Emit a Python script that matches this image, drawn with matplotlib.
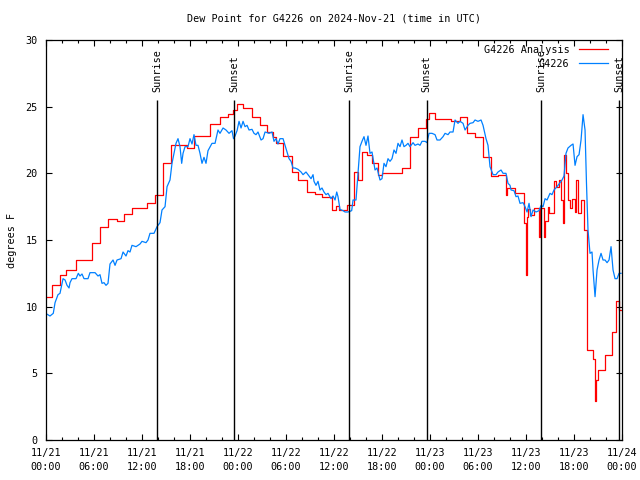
"""Dew point chart for G4226: analysis vs observations, with sunrise/sunset markers."""
import matplotlib
matplotlib.use("Agg")
import matplotlib.pyplot as plt
from matplotlib.ticker import MultipleLocator

# hours since 2024-11-21 00:00 UTC
analysis_hours = [0.0, 0.71, 1.75, 2.5, 3.75, 5.71, 6.75, 7.79, 8.84, 9.75, 10.71, 12.59,
                  13.63, 14.63, 15.63, 17.59, 18.5, 20.5, 21.75, 22.79, 23.41, 23.88, 24.66,
                  25.69, 26.75, 27.59, 28.41, 28.75, 29.63, 30.69, 31.56, 32.63, 33.66, 34.56,
                  35.69, 36.31, 36.63, 37.63, 38.56, 38.94, 39.5, 40.13, 40.75, 41.56, 42.0,
                  42.63, 44.56, 45.56, 46.56, 47.5, 47.88, 48.63, 50.63, 51.71, 52.63, 53.59,
                  54.63, 55.59, 56.5, 57.5, 57.63, 58.59, 59.81, 59.94, 60.09, 60.25, 60.5,
                  61.0, 61.63, 61.75, 62.19, 62.38, 62.69, 62.88, 63.56, 63.75, 64.13, 64.38,
                  64.63, 64.75, 65.0, 65.25, 65.5, 65.81, 66.13, 66.31, 66.56, 66.88, 67.25,
                  67.66, 68.34, 68.63, 68.75, 69.0, 69.88, 70.71, 71.21, 71.63, 72.0]
analysis_dewpt = [10.75, 11.6, 12.4, 12.75, 13.5, 14.75, 15.95, 16.6, 16.4, 16.95, 17.4, 17.75,
                  18.4, 20.75, 22.1, 21.9, 22.8, 23.7, 24.2, 24.45, 24.75, 25.2, 24.9,
                  24.25, 23.6, 23.1, 22.7, 22.25, 21.3, 20.1, 19.5, 18.6, 18.45, 18.2,
                  17.25, 17.55, 17.25, 17.6, 20.1, 19.5, 21.6, 21.4, 20.8, 19.9, 20.0,
                  20.05, 20.4, 22.75, 23.4, 24.1, 24.5, 24.1, 23.9, 24.25, 23.0, 22.7,
                  21.25, 19.8, 19.9, 18.4, 18.9, 18.55, 16.25, 12.4, 16.75, 17.3, 16.9,
                  17.4, 15.25, 17.4, 15.25, 16.4, 17.5, 17.0, 19.4, 19.0, 19.5, 18.0,
                  16.25, 21.4, 20.0, 18.0, 17.4, 18.1, 17.1, 19.5, 17.0, 18.0, 15.75,
                  6.75, 6.1, 2.9, 4.5, 5.25, 6.4, 8.1, 10.4, 9.75, 9.75]

obs_hours = [0.09, 0.5, 0.91, 1.13, 1.5, 1.75, 2.13, 2.38, 2.63, 2.88, 3.0, 3.25, 3.75, 4.04,
             4.25, 4.5, 4.75, 5.25, 5.5, 6.13, 6.5, 6.75, 7.0, 7.25, 7.5, 7.75, 8.0, 8.38,
             8.63, 8.88, 9.38, 9.63, 10.0, 10.25, 10.5, 10.75, 11.25, 11.75, 12.0, 12.5,
             12.75, 13.0, 13.5, 13.88, 14.25, 14.5, 14.88, 15.13, 15.5, 15.75, 16.0, 16.25,
             16.5, 16.75, 16.96, 17.13, 17.38, 17.75, 18.0, 18.25, 18.5, 18.75, 19.0, 19.25,
             19.5, 19.75, 20.0, 20.25, 20.75, 21.13, 21.5, 21.75, 22.13, 22.5, 22.88, 23.25,
             23.44, 23.63, 23.88, 24.13, 24.38, 24.63, 24.88, 25.13, 25.38, 25.75, 26.0,
             26.25, 26.5, 26.88, 27.13, 27.38, 27.88, 28.25, 28.5, 28.75, 29.0, 29.25, 29.63,
             29.88, 30.13, 30.38, 30.63, 30.88, 31.13, 31.5, 31.88, 32.13, 32.5, 32.75,
             33.13, 33.38, 33.5, 33.75, 34.0, 34.25, 34.5, 34.75, 35.0, 35.25, 35.63, 35.88,
             36.13, 36.34, 36.5, 36.75, 37.13, 37.38, 37.75, 38.21, 38.38, 38.75, 39.0,
             39.25, 39.5, 39.75, 40.0, 40.25, 40.5, 40.75, 41.13, 41.38, 41.75, 42.0, 42.25,
             42.5, 42.75, 43.0, 43.25, 43.5, 43.75, 44.0, 44.25, 44.5, 44.75, 45.0, 45.25,
             45.5, 45.88, 46.13, 46.5, 46.75, 47.0, 47.38, 47.63, 47.88, 48.25, 48.63, 48.88,
             49.25, 49.63, 49.88, 50.25, 50.5, 50.88, 51.13, 51.5, 51.75, 52.13, 52.38,
             52.75, 53.0, 53.38, 53.63, 54.0, 54.38, 54.63, 55.0, 55.25, 55.5, 55.88, 56.25,
             56.5, 56.88, 57.13, 57.5, 57.75, 58.0, 58.13, 58.5, 58.75, 59.0, 59.25, 59.63,
             59.88, 60.13, 60.38, 60.63, 60.88, 61.25, 61.63, 61.88, 62.13, 62.38, 62.63,
             63.0, 63.25, 63.5, 63.88, 64.25, 64.5, 64.75, 65.0, 65.25, 65.63, 65.88, 66.13,
             66.38, 66.63, 66.88, 67.13, 67.38, 67.56, 67.75, 68.0, 68.25, 68.38, 68.63,
             68.88, 69.13, 69.38, 69.63, 69.88, 70.13, 70.38, 70.63, 70.88, 71.13, 71.38,
             71.63, 71.88]
obs_dewpt = [9.45, 9.3, 9.5, 10.3, 10.9, 11.0, 12.1, 12.0, 11.6, 11.4, 11.8, 12.1, 12.1, 12.5,
             12.3, 12.45, 12.1, 12.1, 12.55, 12.55, 12.3, 12.4, 11.75, 11.8, 11.6, 11.75, 13.2, 13.5,
             13.1, 13.5, 13.6, 14.1, 13.8, 14.2, 14.1, 14.6, 14.5, 14.7, 14.9, 14.8,
             15.0, 15.5, 15.5, 16.0, 16.3, 17.25, 17.5, 19.0, 19.5, 20.75, 21.5, 22.25,
             22.6, 22.0, 20.75, 21.5, 22.0, 22.0, 22.6, 22.2, 22.9, 22.1, 22.1, 21.5,
             20.75, 21.2, 20.75, 21.7, 22.25, 22.25, 23.25, 23.0, 23.4, 23.25, 23.0, 23.2,
             22.6, 22.8, 23.2, 23.9, 23.4, 23.9, 23.5, 23.6, 23.25, 23.3, 23.0,
             22.9, 23.1, 22.5, 22.6, 23.1, 23.0, 23.1, 22.4, 22.6, 22.2, 22.6, 22.6,
             22.1, 21.6, 21.1, 20.9, 20.4, 20.4, 20.3, 20.1, 19.9, 20.1, 19.9,
             19.6, 19.9, 19.4, 19.1, 19.4, 18.75, 18.9, 18.6, 18.4, 18.5, 18.1, 18.3,
             18.0, 18.6, 18.25, 17.3, 17.2, 17.1, 17.1, 17.2, 18.0, 18.0, 20.0,
             22.0, 22.4, 22.75, 22.1, 22.8, 21.5, 21.6, 20.25, 20.4, 19.5, 19.6, 20.75,
             20.5, 21.1, 20.9, 21.1, 21.75, 21.5, 22.25, 22.0, 22.5, 22.0, 22.1, 22.25,
             22.0, 22.3, 22.1, 22.2, 22.1, 22.4, 22.4, 22.3, 23.0, 23.0, 22.9, 22.5,
             22.5, 22.75, 23.0, 22.9, 23.1, 23.1, 24.0, 23.75, 23.9, 23.75, 23.25,
             23.6, 23.75, 23.8, 24.0, 23.9, 24.0, 23.6, 22.6, 22.1, 20.5, 19.9, 19.9,
             20.1, 20.25, 20.0, 20.0, 19.25, 19.1, 18.75, 18.7, 18.25, 18.3, 17.75, 17.8,
             17.5, 17.1, 17.75, 16.75, 17.25, 17.1, 17.2, 17.6, 17.5, 18.1, 18.0,
             18.5, 18.4, 18.75, 19.0, 19.3, 19.5, 19.8, 21.5, 21.9, 22.1, 22.2, 20.6,
             21.25, 21.4, 22.5, 24.4, 23.25, 19.25, 15.75, 14.0, 14.1, 12.75, 10.75,
             12.75, 13.5, 14.0, 13.5, 13.5, 13.3, 13.5, 14.5, 12.75, 12.1, 12.1,
             12.5, 12.5]

sunrise_hours = [13.91, 37.92, 61.92]
sunset_hours = [23.54, 47.58, 71.63]

tick_hours = [0, 6, 12, 18, 24, 30, 36, 42, 48, 54, 60, 66, 72]
tick_labels = ["11/21\n00:00", "11/21\n06:00", "11/21\n12:00", "11/21\n18:00",
               "11/22\n00:00", "11/22\n06:00", "11/22\n12:00", "11/22\n18:00",
               "11/23\n00:00", "11/23\n06:00", "11/23\n12:00", "11/23\n18:00",
               "11/24\n00:00"]

plt.rcParams["font.family"] = "DejaVu Sans Mono"
plt.rcParams["font.size"] = 7.3

fig = plt.figure(figsize=(6.4, 4.8), dpi=100)
ax = fig.add_axes([46 / 640, 40 / 480, 576 / 640, 400 / 480])

ax.plot(analysis_hours, analysis_dewpt, color="#ff0000", lw=0.9,
        drawstyle="steps-post", label="G4226 Analysis")
ax.plot(obs_hours, obs_dewpt, color="#0080ff", lw=0.9, label="G4226")

# sunrise / sunset markers
for h in sunrise_hours:
    ax.vlines(h, 0, 25.5, color="black", lw=1)
    ax.text(h, 26.1, "Sunrise", rotation=90, ha="center", va="bottom")
for h in sunset_hours:
    ax.vlines(h, 0, 25.5, color="black", lw=1)
    ax.text(h, 26.1, "Sunset", rotation=90, ha="center", va="bottom")

ax.set_xlim(0, 72)
ax.set_ylim(0, 30)
ax.set_xticks(tick_hours)
ax.set_xticklabels(tick_labels, linespacing=1.45)
ax.xaxis.set_minor_locator(MultipleLocator(2))
ax.yaxis.set_major_locator(MultipleLocator(5))
ax.tick_params(which="both", direction="in", top=True, right=True, width=0.8)
ax.tick_params(which="major", length=4)
ax.tick_params(which="minor", length=2.2)
ax.tick_params(axis="x", pad=6)
ax.tick_params(axis="y", pad=6)
for s in ax.spines.values():
    s.set_linewidth(0.9)

ax.set_ylabel("degrees F", labelpad=6)
ax.set_title("Dew Point for G4226 on 2024-Nov-21 (time in UTC)", fontsize=7.3, pad=13)

ax.legend(loc="upper right", bbox_to_anchor=(0.981, 0.995), frameon=False,
          markerfirst=False, handlelength=2.9, handletextpad=0.9,
          labelspacing=0.35, borderpad=0.3, borderaxespad=0)

fig.savefig("out.png", dpi=100)
